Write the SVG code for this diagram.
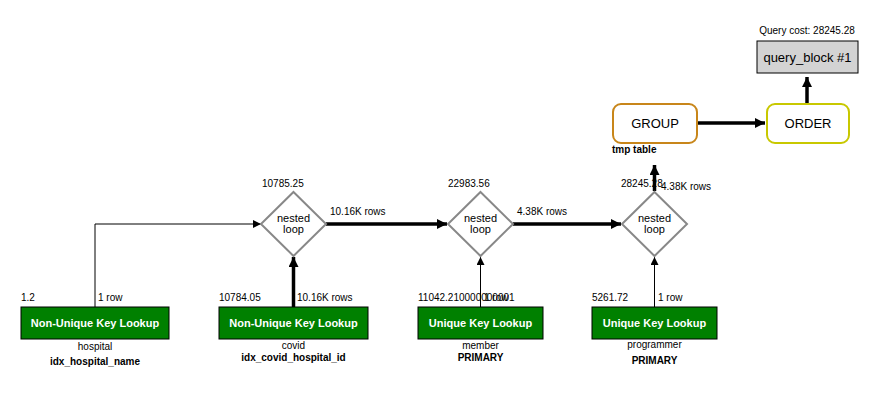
<svg xmlns="http://www.w3.org/2000/svg" width="889" height="420" viewBox="0 0 889 420">
  <defs>
    <marker id="ah" viewBox="0 0 10 10" refX="10" refY="5" markerWidth="10" markerHeight="8" markerUnits="userSpaceOnUse" orient="auto">
      <path d="M0,0 L10,5 L0,10 Z" fill="#000"/>
    </marker>
    <marker id="ahb" viewBox="0 0 10 10" refX="10" refY="5" markerWidth="12" markerHeight="10" markerUnits="userSpaceOnUse" orient="auto">
      <path d="M0,0 L10,5 L0,10 Z" fill="#000"/>
    </marker>
  </defs>
  <style>
    text { font-family: "Liberation Sans", Arial, Helvetica, sans-serif; fill: #000; }
    .s { font-size: 10px; }
    .m { font-size: 11px; }
    .b { font-size: 10px; font-weight: bold; }
    .bt { font-size: 11px; font-weight: bold; fill: #fff; }
    .big { font-size: 13px; }
    .green { fill: #008000; stroke: #000; stroke-width: 1; }
    .dia { fill: #fff; stroke: #888; stroke-width: 2; }
    .thin { fill: none; stroke: #000; stroke-width: 1; marker-end: url(#ah); }
    .thick { fill: none; stroke: #000; stroke-width: 3.5; marker-end: url(#ahb); }
  </style>
  <rect width="889" height="420" fill="#fff"/>

  <!-- connectors -->
  <g id="edges">
    <path class="thin" d="M95,307 V224 H261"/>
    <path class="thick" d="M293.5,307 V257"/>
    <path class="thick" d="M326,224 H447"/>
    <path class="thin" d="M480.5,307 V257"/>
    <path class="thick" d="M513,224 H621"/>
    <path class="thin" d="M654.5,307 V257"/>
    <path class="thick" d="M654.5,191 V165"/>
    <path class="thick" d="M697,123 H765"/>
    <path class="thick" d="M807,103 V77"/>
    <text class="s" x="98" y="301">1 row</text>
    <text class="s" x="297" y="301">10.16K rows</text>
    <text class="s" x="330" y="215">10.16K rows</text>
    <text class="s" x="484" y="301">1 row</text>
    <text class="s" x="517" y="215">4.38K rows</text>
    <text class="s" x="658" y="301">1 row</text>
    <text class="s" x="661" y="190">4.38K rows</text>
  </g>

  <!-- query block -->
  <g id="query_block">
    <text class="s" x="807" y="34" text-anchor="middle">Query cost: 28245.28</text>
    <rect x="757" y="41" width="101" height="32" fill="#d3d3d3" stroke="#000" stroke-width="1"/>
    <text class="big" x="807.5" y="62" text-anchor="middle">query_block #1</text>
  </g>

  <!-- ORDER -->
  <g id="order">
    <rect x="767" y="104" width="82" height="39" rx="8" fill="#fff" stroke="#c8c800" stroke-width="2"/>
    <text class="big" x="808" y="128" text-anchor="middle">ORDER</text>
  </g>

  <!-- GROUP -->
  <g id="group">
    <rect x="613" y="104" width="84" height="39" rx="8" fill="#fff" stroke="#c8861a" stroke-width="2"/>
    <text class="big" x="655" y="128" text-anchor="middle">GROUP</text>
    <text class="b" x="612" y="153">tmp table</text>
  </g>

  <!-- nested loop 1 -->
  <g id="nl1">
    <text class="s" x="262" y="187">10785.25</text>
    <polygon class="dia" points="293.5,192 326,224 293.5,256 261,224"/>
    <text class="m" x="293.5" y="222" text-anchor="middle">nested</text>
    <text class="m" x="293.5" y="233" text-anchor="middle">loop</text>
  </g>

  <!-- nested loop 2 -->
  <g id="nl2">
    <text class="s" x="448" y="187">22983.56</text>
    <polygon class="dia" points="480.5,192 513,224 480.5,256 448,224"/>
    <text class="m" x="480.5" y="222" text-anchor="middle">nested</text>
    <text class="m" x="480.5" y="233" text-anchor="middle">loop</text>
  </g>

  <!-- nested loop 3 -->
  <g id="nl3">
    <text class="s" x="621" y="187">28245.28</text>
    <polygon class="dia" points="654.5,192 687,224 654.5,256 622,224"/>
    <text class="m" x="654.5" y="222" text-anchor="middle">nested</text>
    <text class="m" x="654.5" y="233" text-anchor="middle">loop</text>
  </g>

  <!-- hospital -->
  <g id="hospital">
    <text class="s" x="21" y="301">1.2</text>
    <rect class="green" x="21" y="307" width="148" height="32"/>
    <text class="bt" x="95" y="327" text-anchor="middle">Non-Unique Key Lookup</text>
    <text class="s" x="95" y="350" text-anchor="middle">hospital</text>
    <text class="b" x="95" y="365" text-anchor="middle">idx_hospital_name</text>
  </g>

  <!-- covid -->
  <g id="covid">
    <text class="s" x="219" y="301">10784.05</text>
    <rect class="green" x="219" y="307" width="149" height="32"/>
    <text class="bt" x="293.5" y="327" text-anchor="middle">Non-Unique Key Lookup</text>
    <text class="s" x="293.5" y="349" text-anchor="middle">covid</text>
    <text class="b" x="293.5" y="361" text-anchor="middle">idx_covid_hospital_id</text>
  </g>

  <!-- member -->
  <g id="member">
    <text class="s" x="418" y="301">11042.210000000001</text>
    <rect class="green" x="418" y="307" width="125" height="32"/>
    <text class="bt" x="480.5" y="327" text-anchor="middle">Unique Key Lookup</text>
    <text class="s" x="480.5" y="349" text-anchor="middle">member</text>
    <text class="b" x="480.5" y="361" text-anchor="middle">PRIMARY</text>
  </g>

  <!-- programmer -->
  <g id="programmer">
    <text class="s" x="592" y="301">5261.72</text>
    <rect class="green" x="592" y="307" width="125" height="32"/>
    <text class="bt" x="654.5" y="327" text-anchor="middle">Unique Key Lookup</text>
    <text class="s" x="654.5" y="348" text-anchor="middle">programmer</text>
    <text class="b" x="654.5" y="364" text-anchor="middle">PRIMARY</text>
  </g>
</svg>
